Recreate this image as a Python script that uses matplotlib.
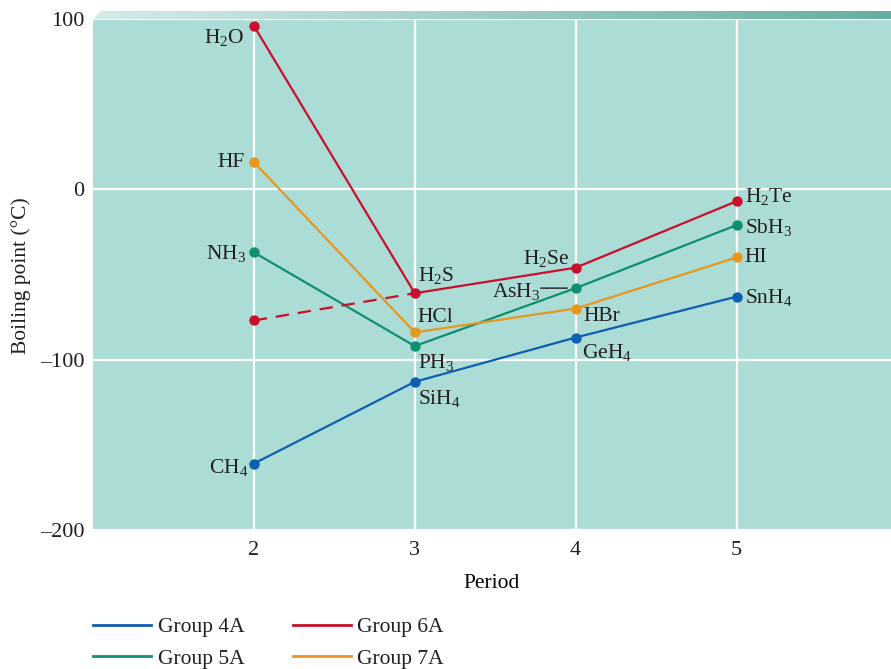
import numpy as np
import matplotlib
matplotlib.use('Agg')
import matplotlib.pyplot as plt
from matplotlib.patches import Polygon
from matplotlib.lines import Line2D

plt.rcParams['font.family'] = ['Liberation Serif', 'DejaVu Serif']
plt.rcParams['mathtext.fontset'] = 'custom'
plt.rcParams['mathtext.rm'] = 'Liberation Serif'
plt.rcParams['mathtext.default'] = 'rm'
plt.rcParams['text.color'] = '#231f20'

# Data: boiling points (degC) by period
periods = [2, 3, 4, 5]
group4a = [-161, -113, -87, -63]
group5a = [-37, -92, -58, -21]
group6a = [96, -61, -46, -7]
group7a = [16, -84, -70, -40]
h2o_expected = -77  # extrapolated value for H2O

names4a = ['CH$_4$', 'SiH$_4$', 'GeH$_4$', 'SnH$_4$']
names5a = ['NH$_3$', 'PH$_3$', 'AsH$_3$', 'SbH$_3$']
names6a = ['H$_2$O', 'H$_2$S', 'H$_2$Se', 'H$_2$Te']
names7a = ['HF', 'HCl', 'HBr', 'HI']

c4 = '#0f5fb0'
c5 = '#0e9070'
c6 = '#c8102e'
c7 = '#e5981f'

fig = plt.figure(figsize=(8.91, 6.69), dpi=100)
ax = fig.add_axes([93 / 891, 139 / 669, 1 - 93 / 891, 511 / 669])
ax.set_facecolor('#acdcd6')
for s in ax.spines.values():
    s.set_visible(False)

ax.set_xlim(1.0, 5.96)
ax.set_ylim(-200, 100)
ax.set_xticks(periods)
ax.set_yticks([-200, -100, 0, 100])
ax.set_yticklabels(['\u2013200', '\u2013100', '0', '100'])
ax.tick_params(length=0, labelsize=16, colors='#231f20', pad=6)
ax.tick_params(axis='x', pad=8)
ax.grid(True, color='white', lw=1.6)
ax.set_axisbelow(True)

lw, ms = 1.6, 6.5
ax.plot(periods, group4a, color=c4, lw=lw, marker='o', ms=ms)
ax.plot(periods, group5a, color=c5, lw=lw, marker='o', ms=ms)
ax.plot(periods, group6a, color=c6, lw=lw, marker='o', ms=ms)
ax.plot(periods, group7a, color=c7, lw=lw, marker='o', ms=ms)
ax.plot([periods[0], periods[1]], [h2o_expected, group6a[1]], color=c6, lw=lw, ls=(0, (6, 4)))
ax.plot(periods[0], h2o_expected, color=c6, marker='o', ms=ms)

fs = 15.5
def lab(x, y, s, dx, dy, ha):
    ax.annotate(s, (x, y), xytext=(dx, dy), textcoords='offset pixels',
                ha=ha, va='center', fontsize=fs)

# compound labels
lab(2, group6a[0], names6a[0], -10, -12, 'right')
lab(2, group7a[0], names7a[0], -9, 0, 'right')
lab(2, group5a[0], names5a[0], -8, -1, 'right')
lab(2, group4a[0], names4a[0], -6, -4, 'right')
lab(3, group6a[1], names6a[1], 3, 18, 'left')
lab(3, group7a[1], names7a[1], 3, 15, 'left')
lab(3, group5a[1], names5a[1], 3, -16, 'left')
lab(3, group4a[1], names4a[1], 3, -17, 'left')
lab(4, group6a[2], names6a[2], -6, 9, 'right')
lab(4, group5a[2], names5a[2], -35, -3, 'right')
lab(4, group7a[2], names7a[2], 8, -8, 'left')
lab(4, group4a[2], names4a[2], 6, -15, 'left')
lab(5, group6a[3], names6a[3], 8, 5, 'left')
lab(5, group5a[3], names5a[3], 8, -2, 'left')
lab(5, group7a[3], names7a[3], 8, 0, 'left')
lab(5, group4a[3], names4a[3], 8, -1, 'left')
# leader line for AsH3
ax.annotate('', (4, group5a[2]), xytext=(-35, 0), textcoords='offset pixels',
            arrowprops=dict(arrowstyle='-', color='#231f20', lw=1.0, shrinkA=0, shrinkB=6))

ax.set_xlabel('Period', fontsize=15.5, labelpad=10)
fig.text(21 / 891, 1 - 276 / 669, 'Boiling point (\u00b0C)', rotation=90,
         ha='center', va='center', fontsize=15.5)

# gradient bar on top
bar = fig.add_axes([93 / 891, 650 / 669, 1 - 93 / 891, 8 / 669])
bar.set_axis_off()
grad = np.linspace(0, 1, 256).reshape(1, -1)
cmap = matplotlib.colors.LinearSegmentedColormap.from_list('g', ['#d4ece8', '#66aea1'])
im = bar.imshow(grad, aspect='auto', cmap=cmap, extent=[0, 1, 0, 1])
bar.set_xlim(0, 1)
bar.set_ylim(0, 1)
clip = Polygon([[0, 0], [8 / 798, 1], [1, 1], [1, 0]], transform=bar.transData, visible=False)
bar.add_patch(clip)
im.set_clip_path(clip)

# legend (lines only)
handles = [Line2D([], [], color=c4, lw=2), Line2D([], [], color=c5, lw=2),
           Line2D([], [], color=c6, lw=2), Line2D([], [], color=c7, lw=2)]
labels = ['Group 4A', 'Group 5A', 'Group 6A', 'Group 7A']
fig.legend(handles, labels, ncol=2, loc='upper left', bbox_to_anchor=(93 / 891, 52 / 669),
           frameon=False, fontsize=15.5, handlelength=2.7, handletextpad=0.3, columnspacing=2.25,
           labelspacing=0.55, borderaxespad=0, borderpad=0)

fig.savefig('out.png', dpi=100)
